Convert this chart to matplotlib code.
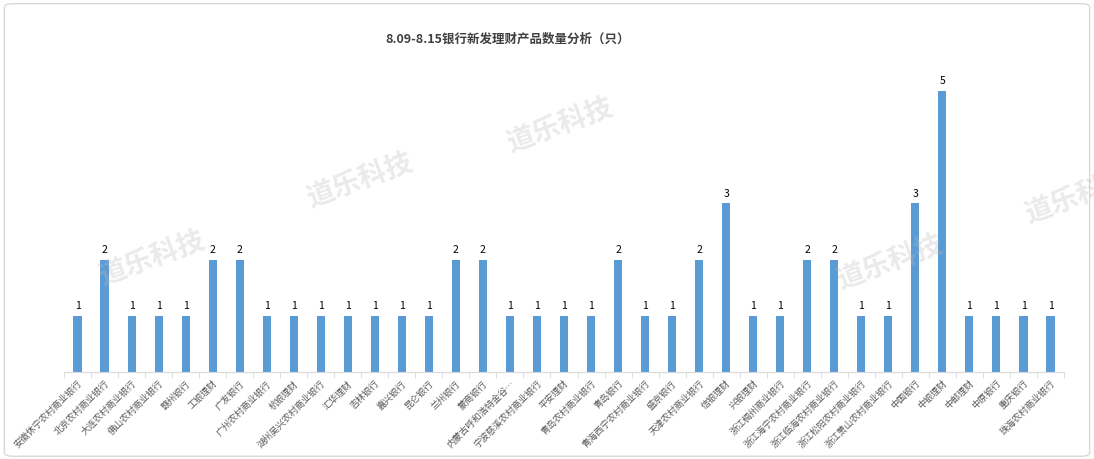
import matplotlib
matplotlib.use("Agg")
import matplotlib.pyplot as plt
from matplotlib.patches import FancyBboxPatch

plt.rcParams['font.family'] = ['Noto Sans CJK SC', 'DejaVu Sans']

# data
banks = ['安徽休宁农村商业银行', '北京农村商业银行', '大连农村商业银行', '佛山农村商业银行',
         '赣州银行', '工银理财', '广发银行', '广州农村商业银行', '杭银理财',
         '湖州吴兴农村商业银行', '汇华理财', '吉林银行', '嘉兴银行', '昆仑银行',
         '兰州银行', '蒙商银行', '内蒙古呼和浩特金谷…', '宁波慈溪农村商业银行', '平安理财',
         '青岛农村商业银行', '青岛银行', '青海西宁农村商业银行', '盛京银行',
         '天津农村商业银行', '信银理财', '兴银理财', '浙江稠州商业银行',
         '浙江海宁农村商业银行', '浙江临海农村商业银行', '浙江松阳农村商业银行',
         '浙江萧山农村商业银行', '中国银行', '中银理财', '中邮理财', '中原银行',
         '重庆银行', '珠海农村商业银行']
counts = [1, 2, 1, 1, 1, 2, 2, 1, 1, 1, 1, 1, 1, 1, 2, 2, 1, 1, 1, 1, 2, 1, 1,
          2, 3, 1, 1, 2, 2, 1, 1, 3, 5, 1, 1, 1, 1]

fig = plt.figure(figsize=(10.94, 4.59), dpi=100)
ax = fig.add_axes([64 / 1094, 1 - 372 / 459, 1000 / 1094, 297 / 459])

x = range(len(banks))
bars = ax.bar(x, counts, width=0.3, color='#5B9BD5', zorder=2)
for b, v in zip(bars, counts):
    ax.text(b.get_x() + b.get_width() / 2, v + 0.08, str(v), ha='center', va='bottom',
            fontsize=7.5, color='#000000')

ax.set_xlim(-0.5, len(banks) - 0.5)
ax.set_ylim(0, 5.28)
ax.set_yticks([])
ax.set_xticks(x)
ax.set_xticklabels(banks, rotation=45, ha='right', rotation_mode='anchor',
                   fontsize=6.6, color='#595959')
ax.set_xticks([i - 0.5 for i in range(len(banks) + 1)], minor=True)
ax.tick_params(axis='x', which='major', length=0, pad=5)
ax.tick_params(axis='x', which='minor', length=4, color='#D9D9D9')
for s in ['top', 'left', 'right']:
    ax.spines[s].set_visible(False)
ax.spines['bottom'].set_color('#D9D9D9')

fig.text(508 / 1094, 1 - 39 / 459, '8.09-8.15银行新发理财产品数量分析（只）', ha='center', va='center',
         fontsize=9, fontweight='bold', color='#404040')

# watermarks
for wx, wy in [(560, 125), (360, 180), (152, 258), (890, 262), (1078, 196)]:
    fig.text(wx / 1094, 1 - wy / 459, '道乐科技', ha='center', va='center', fontsize=20,
             fontweight='bold', color='#bbbbbb', alpha=0.3, rotation=20)

border = FancyBboxPatch((0.004, 0.006), 0.992, 0.986, boxstyle='round,pad=0,rounding_size=0.008',
                        transform=fig.transFigure, fill=False, edgecolor='#D9D9D9', linewidth=1)
fig.patches.append(border)

fig.savefig('out.png', dpi=100)
